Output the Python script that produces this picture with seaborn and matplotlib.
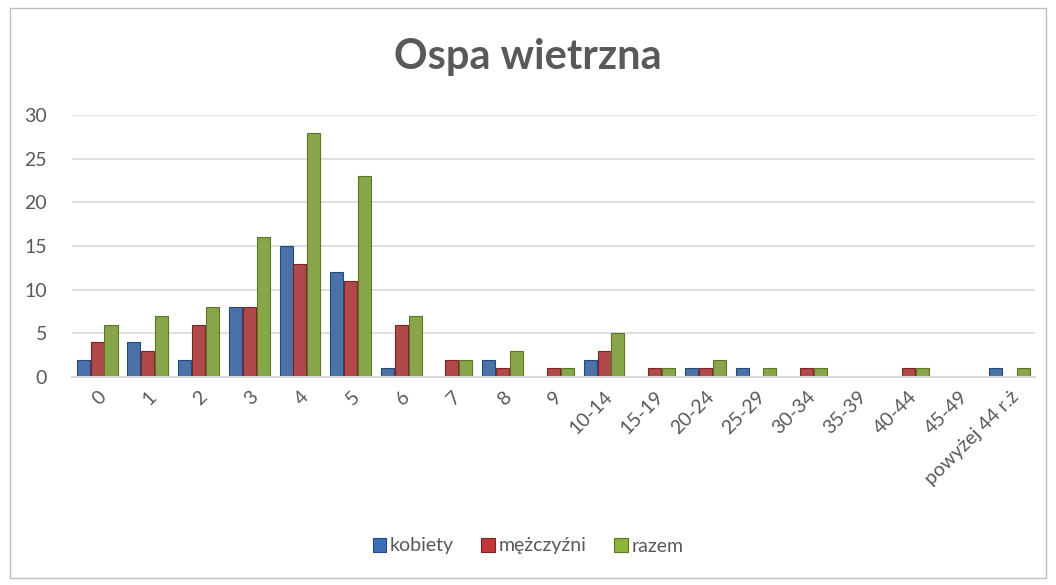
import matplotlib
matplotlib.use('Agg')
from matplotlib import pyplot as plt
from matplotlib.patches import Rectangle
import pandas as pd
import seaborn as sns

groups = ['0', '1', '2', '3', '4', '5', '6', '7', '8', '9', '10-14', '15-19',
          '20-24', '25-29', '30-34', '35-39', '40-44', '45-49', 'powyżej 44 r.ż']
kobiety = [2, 4, 2, 8, 15, 12, 1, 0, 2, 0, 2, 0, 1, 1, 0, 0, 0, 0, 1]
mezczyzni = [4, 3, 6, 8, 13, 11, 6, 2, 1, 1, 3, 1, 1, 0, 1, 0, 1, 0, 0]
razem = [6, 7, 8, 16, 28, 23, 7, 2, 3, 1, 5, 1, 2, 1, 1, 0, 1, 0, 1]
series = ['kobiety', 'mężczyźni', 'razem']
colors = ['#3A70B8', '#C0383A', '#8DB43B']
edges = ['#23497D', '#7E2224', '#5B7624']

table = pd.DataFrame({
    'grupa': groups * 3,
    'seria': [s for s in series for _ in groups],
    'liczba': kobiety + mezczyzni + razem,
})

sns.set_style('white')
plt.rcParams['font.family'] = ['Lato', 'DejaVu Sans']
grey = '#595959'

fig = plt.figure(figsize=(10.56, 5.85), dpi=100)
ax = fig.add_axes([0.068, 0.3556, 0.912, 0.4474])

sns.barplot(data=table, x='grupa', y='liczba', hue='seria', palette=colors,
            order=groups, hue_order=series, width=0.82, gap=0.06,
            linewidth=0, ax=ax, legend=False)

# darker outline per series, skip empty bars
for cont, ec in zip(ax.containers, edges):
    for bar in cont:
        if bar.get_height() > 0:
            bar.set_edgecolor(ec)
            bar.set_linewidth(0.8)

ax.set_ylim(0, 30)
ax.set_xlim(-0.5, len(groups) - 0.5)
ax.set_yticks(range(0, 31, 5))
ax.yaxis.grid(True, color='#D9D9D9', linewidth=1.2)
ax.set_axisbelow(True)
for side in ['left', 'right', 'top']:
    ax.spines[side].set_visible(False)
ax.spines['bottom'].set_color('#D9D9D9')
ax.spines['bottom'].set_linewidth(1.5)
ax.set_xlabel('')
ax.set_ylabel('')
ax.tick_params(axis='both', length=0, colors=grey, labelsize=14)
ax.tick_params(axis='y', pad=18)
plt.setp(ax.get_xticklabels(), rotation=45, ha='right', rotation_mode='anchor')
ax.tick_params(axis='x', pad=8)

fig.text(0.5, 1 - 57 / 585, 'Ospa wietrzna', ha='center', va='center',
         fontsize=30, fontweight='bold', color=grey)

handles = [Rectangle((0, 0), 1, 1, facecolor=c, edgecolor=e, linewidth=0.8)
           for c, e in zip(colors, edges)]
fig.legend(handles, series, loc='center', bbox_to_anchor=(0.5, 1 - 546 / 585),
           ncol=3, frameon=False, fontsize=14, handlelength=0.7,
           handleheight=0.7, handletextpad=0.2, columnspacing=1.4,
           labelcolor=grey)

fig.patches.append(Rectangle((10 / 1056, 1 - 578 / 585), 1036 / 1056, 570 / 585,
                             transform=fig.transFigure, fill=False,
                             edgecolor='#BFBFBF', linewidth=1))

fig.savefig('out.png', dpi=100)
